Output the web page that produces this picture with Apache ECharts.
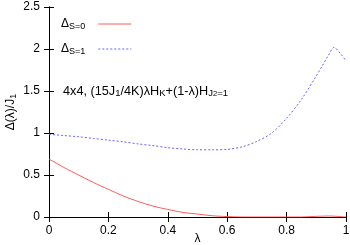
<!DOCTYPE html>
<html><head><meta charset="utf-8">
<script src="https://cdn.jsdelivr.net/npm/echarts@6/dist/echarts.min.js"></script>
<style>html,body{margin:0;padding:0;background:#fff}#c{width:350px;height:245px}</style>
</head><body><div id="c"></div>
<script>
var lambda = [0,0.05,0.1,0.15,0.2,0.25,0.3,0.35,0.4,0.45,0.5,0.55,0.6,0.65,0.7,0.75,0.8,0.85,0.9,0.92,0.94,0.96,0.98,1.0];
var deltaS0 = [0.69,0.59,0.50,0.41,0.33,0.25,0.185,0.13,0.09,0.055,0.035,0.015,0.005,0,0,0,0,0,0.008,0.01,0.012,0.01,0.005,0];
var deltaS1 = [0.985,0.97,0.955,0.935,0.915,0.895,0.87,0.85,0.825,0.81,0.80,0.80,0.805,0.835,0.90,1.00,1.175,1.40,1.68,1.80,1.92,2.02,1.95,1.86];
var xTicks = [0,0.2,0.4,0.6,0.8,1];
var yTicks = [0,0.5,1,1.5,2,2.5];
var seriesNames = ['S0','S1'];
var seriesLabels = {S0:'{a|Δ}{s|S=0}', S1:'{a|Δ}{s|S=1}'};
var annotation = '{a|4x4, (15J}{s|1}{a|/4K)λH}{s|K}{a|+(1-λ)H}{s|J}{ss|2}{s|=1}';
var yName = '{a|Δ(λ)/J}{s|1}';
var xName = 'λ';

function pairs(xs, ys){ return xs.map(function(x,i){return [x, ys[i]];}); }
var font = 'Liberation Sans, Arial, sans-serif';
var sub = {
  a:{fontSize:12, fontFamily:font, color:'#000', lineHeight:14, verticalAlign:'middle'},
  s:{fontSize:9, fontFamily:font, color:'#000', lineHeight:9, verticalAlign:'bottom', padding:[8,0,0,0]},
  ss:{fontSize:7, fontFamily:font, color:'#000', lineHeight:7, verticalAlign:'bottom', padding:[13,0,0,0]}
};
var subAnn = {
  a:{fontSize:12.7, fontFamily:font, color:'#000', lineHeight:14, verticalAlign:'middle'},
  s:{fontSize:9.5, fontFamily:font, color:'#000', lineHeight:9, verticalAlign:'bottom', padding:[8,0,0,0]},
  ss:{fontSize:7.5, fontFamily:font, color:'#000', lineHeight:7, verticalAlign:'bottom', padding:[13,0,0,0]}
};
var axisLine = {show:true, lineStyle:{color:'#000', width:1}};
var tick = {show:true, inside:true, length:5, lineStyle:{color:'#000'}};
var chart = echarts.init(document.getElementById('c'), null, {renderer:'canvas'});
chart.setOption({
  animation:false,
  backgroundColor:'#fff',
  grid:{left:49, right:4, top:7, bottom:28, containLabel:false, outerBoundsMode:'none'},
  title:{text:annotation, left:63, top:84, padding:0,
    textStyle:{fontSize:12.7, fontWeight:'normal', fontFamily:font, color:'#000', rich:subAnn}},
  legend:{orient:'vertical', left:56, top:9, align:'right', itemWidth:33, itemHeight:4, itemGap:8,
    data:seriesNames, itemStyle:{opacity:0}, lineStyle:{width:1},
    formatter:function(n){return seriesLabels[n];},
    textStyle:{fontSize:12, fontFamily:font, color:'#000', rich:{
      a:sub.a,
      s:{fontSize:9, fontFamily:font, color:'#000', lineHeight:9, verticalAlign:'bottom', padding:[8,8,0,0]}
    }}},
  xAxis:[
    {type:'value', min:0, max:1, interval:0.2, position:'bottom',
     axisLine:axisLine, axisTick:tick, splitLine:{show:false},
     axisLabel:{fontSize:12, fontFamily:font, color:'#000', margin:8,
       formatter:function(v){return String(Math.round(v*10)/10);}},
     name:xName, nameLocation:'middle', nameGap:16, nameMoveOverlap:false,
     nameTextStyle:{fontSize:12, fontFamily:font, color:'#000'}},
    {type:'value', min:0, max:1, interval:0.2, position:'top',
     axisLine:axisLine, axisTick:tick, splitLine:{show:false}, axisLabel:{show:false}}
  ],
  yAxis:[
    {type:'value', min:0, max:2.5, interval:0.5, position:'left',
     axisLine:axisLine, axisTick:tick, splitLine:{show:false},
     axisLabel:{fontSize:12, fontFamily:font, color:'#000', margin:9},
     name:yName, nameLocation:'middle', nameGap:31, nameRotate:90, nameMoveOverlap:false,
     nameTextStyle:{fontSize:12, fontFamily:font, color:'#000', rich:sub}},
    {type:'value', min:0, max:2.5, interval:0.5, position:'right',
     axisLine:axisLine, axisTick:tick, splitLine:{show:false}, axisLabel:{show:false}}
  ],
  series:[
    {name:'S0', type:'line', data:pairs(lambda, deltaS0), symbol:'none', smooth:0.3,
     lineStyle:{color:'#ff5a5a', width:1, type:'solid'}, itemStyle:{color:'#ff5a5a'}},
    {name:'S1', type:'line', data:pairs(lambda, deltaS1), symbol:'none', smooth:0.3,
     lineStyle:{color:'#6464ff', width:1, type:[2,2]}, itemStyle:{color:'#6464ff'}}
  ]
});
</script></body></html>
